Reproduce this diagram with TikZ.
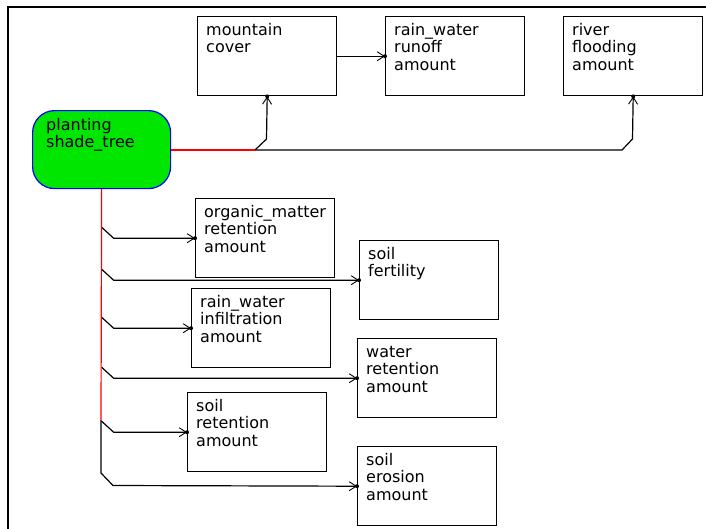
\documentclass[tikz,border=0pt]{standalone}
\usepackage{fontspec}
\setmainfont{DejaVu Sans}
\usetikzlibrary{arrows.meta,calc}
\definecolor{nodegreen}{RGB}{0,230,0}
\definecolor{nodeblue}{RGB}{0,0,255}
\definecolor{linkred}{RGB}{255,0,0}
\newcommand\mlines[1]{\vtop{\baselineskip=17.5pt\lineskip=0pt #1}}
\tikzset{
  box/.style={draw=black, line width=1.4pt, minimum width=139pt, minimum height=79pt, anchor=north west, inner sep=0pt},
  txt/.style={anchor=base west, inner sep=0pt, font=\fontsize{16}{17.5}\selectfont},
  conn/.style={draw=black, line width=1.2pt},
  redconn/.style={draw=linkred, line width=1.2pt},
  arr/.style={conn, -{Straight Barb[length=7pt,width=9pt,line width=0.9pt]}},
  tipdot/.style={fill=black},
}
\begin{document}
\begin{tikzpicture}[x=1pt,y=-1pt]
\useasboundingbox (0,0) rectangle (706,528);
\clip (0,0) rectangle (706,528);
\draw[line width=2pt] (8,7) rectangle (740,560);

% boxes
\node[box] (mc) at (197,16) {};
\node[box] (rw) at (385,16) {};
\node[box] (rf) at (563,16) {};
\node[box] (om) at (195,198) {};
\node[box] (sf) at (359,240) {};
\node[box] (ri) at (191,288) {};
\node[box] (wr) at (357,338) {};
\node[box] (sr) at (187,392) {};
\node[box] (se) at (357,446) {};
\node[draw=nodeblue, fill=nodegreen, line width=1.2pt, rounded corners=22pt,
      minimum width=138pt, minimum height=78pt, anchor=north west, inner sep=0pt] (pl) at (32,110) {};

% texts
\node[txt] (tmc) at ($(mc.north west)+(9,19)$) {\mlines{\hbox{mountain}\hbox{cover}}};
\node[txt] (trw) at ($(rw.north west)+(9,19)$) {\mlines{\hbox{rain\_water}\hbox{runoff}\hbox{amount}}};
\node[txt] (trf) at ($(rf.north west)+(9,19)$) {\mlines{\hbox{river}\hbox{flooding}\hbox{amount}}};
\node[txt] (tom) at ($(om.north west)+(9,19)$) {\mlines{\hbox{organic\_matter}\hbox{retention}\hbox{amount}}};
\node[txt] (tsf) at ($(sf.north west)+(9,19)$) {\mlines{\hbox{soil}\hbox{fertility}}};
\node[txt] (tri) at ($(ri.north west)+(9,19)$) {\mlines{\hbox{rain\_water}\hbox{infiltration}\hbox{amount}}};
\node[txt] (twr) at ($(wr.north west)+(9,19)$) {\mlines{\hbox{water}\hbox{retention}\hbox{amount}}};
\node[txt] (tsr) at ($(sr.north west)+(9,19)$) {\mlines{\hbox{soil}\hbox{retention}\hbox{amount}}};
\node[txt] (tse) at ($(se.north west)+(9,19)$) {\mlines{\hbox{soil}\hbox{erosion}\hbox{amount}}};
\node[txt] (tpl) at ($(pl.north west)+(14,20)$) {\mlines{\hbox{planting}\hbox{shade\_tree}}};

% junctions
\coordinate (j1) at (255,150);
\coordinate (v) at (101,420);
\coordinate (v2) at (101,473);
\coordinate (h2) at (622,150);

% top connectors
\draw[arr] (j1) -- ++(11.5,-11) -- (mc.south);
\draw[arr] (j1) -- (h2) -- ++(10.5,-11) -- (rf.south);
\draw[arr] (mc.east) -- (rw.west);
\draw[redconn] (pl.east |- j1) -- (j1);

% left branches
\foreach \b in {om,sf,ri,wr,sr}{
  \draw[arr] ($(pl.south |- \b.west)+(0,-11)$) -- ++(12,11) -- (\b.west);
}
\draw[arr] (v) -- (v2) -- ++(12,12.5) -- (se.west);
\draw[redconn] (pl.south) -- (v);

% dots at arrow tips
\foreach \p in {mc.south,rf.south,rw.west,om.west,sf.west,ri.west,wr.west,sr.west,se.west}{
  \fill[tipdot] ($(\p)$) circle (2pt);
}
\end{tikzpicture}
\end{document}
